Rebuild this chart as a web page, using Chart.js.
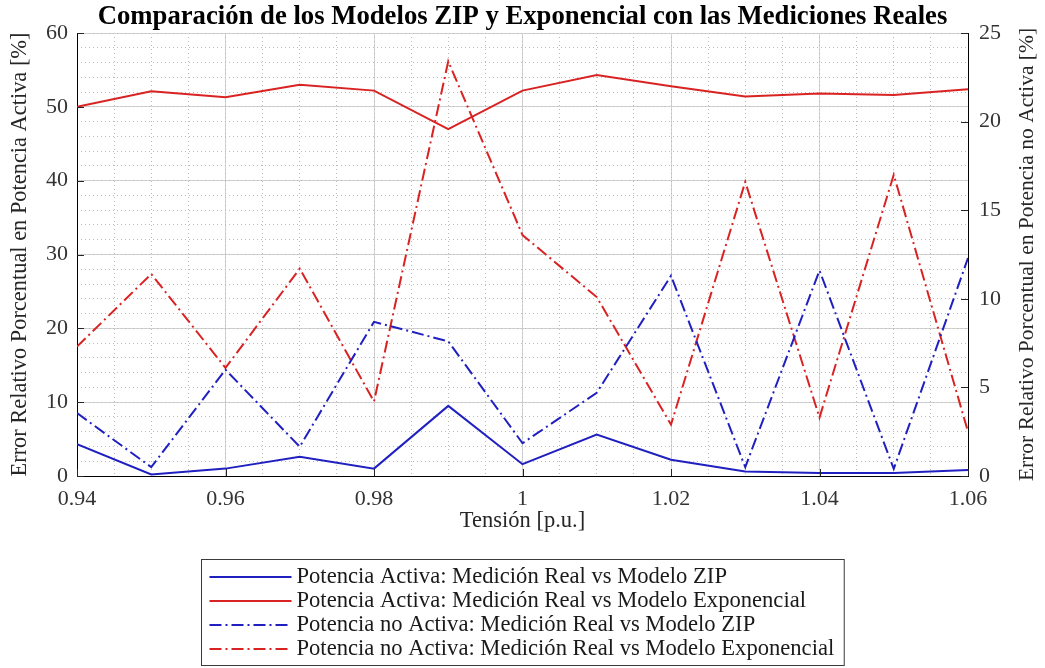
<!DOCTYPE html>
<html>
<head>
<meta charset="utf-8">
<script src="https://cdn.jsdelivr.net/npm/chart.js@4.4.1/dist/chart.umd.min.js"></script>
<style>
html,body{margin:0;padding:0;background:#fff;overflow:hidden}
#wrap{width:1045px;height:668px;position:relative}
</style>
</head>
<body>
<div id="wrap"><canvas id="c"></canvas></div>
<script>
// ---- data ----
const tension = [0.94, 0.95, 0.96, 0.97, 0.98, 0.99, 1.00, 1.01, 1.02, 1.03, 1.04, 1.05, 1.06];
const activaZIP   = [4.3, 0.2, 1.0, 2.6, 1.0, 9.5, 1.6, 5.6, 2.2, 0.6, 0.4, 0.4, 0.8];
const activaExp   = [50.0, 52.1, 51.3, 53.0, 52.2, 47.0, 52.2, 54.3, 52.8, 51.4, 51.8, 51.6, 52.4];
const noActivaZIP = [3.55, 0.5, 6.0, 1.65, 8.7, 7.6, 1.85, 4.7, 11.3, 0.5, 11.6, 0.4, 12.3];
const noActivaExp = [7.3, 11.4, 6.1, 11.7, 4.2, 23.4, 13.6, 10.1, 2.9, 16.6, 3.3, 17.0, 2.5];

const seriesLabels = [
  'Potencia Activa: Medición Real vs Modelo ZIP',
  'Potencia Activa: Medición Real vs Modelo Exponencial',
  'Potencia no Activa: Medición Real vs Modelo ZIP',
  'Potencia no Activa: Medición Real vs Modelo Exponencial'
];
const titleText = 'Comparación de los Modelos ZIP y Exponencial con las Mediciones Reales';
const xTitle = 'Tensión [p.u.]';
const yTitle = 'Error Relativo Porcentual en Potencia Activa [%]';
const y1Title = 'Error Relativo Porcentual en Potencia no Activa [%]';
const xRange = [0.94, 1.06], xStep = 0.02, xMinorStep = 0.005;
const yRange = [0, 60], yStep = 10, yMinorStep = 2;
const y1Range = [0, 25], y1Step = 5;

const FONT = "'Liberation Serif', 'Times New Roman', serif";
const BLUE = '#2020c0';
const RED = '#d92222';
const DASHDOT = [12, 4, 2, 4];

const toPts = arr => arr.map((v, i) => ({x: tension[i], y: v}));

// inward tick marks (MATLAB style)
const tickPlugin = {
  id: 'inTicks',
  afterDatasetsDraw(chart) {
    const {ctx, chartArea: a, scales} = chart;
    ctx.save();
    ctx.strokeStyle = '#262626';
    ctx.lineWidth = 1;
    const L = 7;
    ctx.beginPath();
    scales.x.ticks.forEach(t => {
      const p = Math.round(scales.x.getPixelForValue(t.value)) + 0.5;
      ctx.moveTo(p, a.bottom); ctx.lineTo(p, a.bottom - L);
    });
    scales.y.ticks.forEach(t => {
      const p = Math.round(scales.y.getPixelForValue(t.value)) + 0.5;
      ctx.moveTo(a.left, p); ctx.lineTo(a.left + L, p);
    });
    scales.y1.ticks.forEach(t => {
      const p = Math.round(scales.y1.getPixelForValue(t.value)) + 0.5;
      ctx.moveTo(a.right, p); ctx.lineTo(a.right - L, p);
    });
    ctx.stroke();
    ctx.restore();
  }
};

// right axis title, reading bottom-to-top as in the reference
const rightTitlePlugin = {
  id: 'rightTitle',
  afterDraw(chart) {
    const {ctx, chartArea: a} = chart;
    const s = chart.scales.y1;
    ctx.save();
    ctx.font = '21.5px ' + FONT;
    ctx.fillStyle = '#262626';
    ctx.textAlign = 'center';
    ctx.textBaseline = 'middle';
    ctx.translate(s.right - 18, (a.top + a.bottom) / 2);
    ctx.rotate(-Math.PI / 2);
    ctx.fillText(y1Title, 0, 0);
    ctx.restore();
  }
};

// boxed vertical legend under the axes
const legendPlugin = {
  id: 'boxLegend',
  afterDraw(chart) {
    const {ctx, chartArea: a} = chart;
    const ds = chart.data.datasets;
    ctx.save();
    ctx.font = '22.6px ' + FONT;
    let maxW = 0;
    ds.forEach(d => { maxW = Math.max(maxW, ctx.measureText(d.label).width); });
    const padL = 8, lineLen = 82, gap = 5, padR = 10, rowH = 24, top = 559;
    const w = padL + lineLen + gap + maxW + padR;
    const h = 18 + (ds.length - 1) * rowH + 16;
    const x0 = Math.round((a.left + a.right) / 2 - w / 2) + 0.5;
    ctx.fillStyle = '#fff';
    ctx.fillRect(x0, top + 0.5, w, h);
    ctx.strokeStyle = '#3a3a3a';
    ctx.lineWidth = 1;
    ctx.setLineDash([]);
    ctx.strokeRect(x0, top + 0.5, w, h);
    ds.forEach((d, i) => {
      const cy = top + 18 + i * rowH;
      ctx.beginPath();
      ctx.setLineDash(d.borderDash || []);
      ctx.strokeStyle = d.borderColor;
      ctx.lineWidth = d.borderWidth;
      ctx.moveTo(x0 + padL, cy);
      ctx.lineTo(x0 + padL + lineLen, cy);
      ctx.stroke();
      ctx.setLineDash([]);
      ctx.fillStyle = '#1a1a1a';
      ctx.textAlign = 'left';
      ctx.textBaseline = 'middle';
      ctx.fillText(d.label, x0 + padL + lineLen + gap, cy);
    });
    ctx.restore();
  }
};

const fmtX = v => String(+Number(v).toFixed(2));

new Chart(document.getElementById('c'), {
  type: 'line',
  data: {
    datasets: [
      {label: seriesLabels[0], data: toPts(activaZIP), yAxisID: 'y', borderColor: BLUE, borderWidth: 2},
      {label: seriesLabels[1], data: toPts(activaExp), yAxisID: 'y', borderColor: RED, borderWidth: 2},
      {label: seriesLabels[2], data: toPts(noActivaZIP), yAxisID: 'y1', borderColor: BLUE, borderWidth: 2, borderDash: DASHDOT},
      {label: seriesLabels[3], data: toPts(noActivaExp), yAxisID: 'y1', borderColor: RED, borderWidth: 2, borderDash: DASHDOT}
    ]
  },
  options: {
    responsive: true,
    maintainAspectRatio: false,
    animation: false,
    devicePixelRatio: 1,
    layout: {padding: {top: 0, left: 0, right: 0, bottom: 133}},
    elements: {point: {radius: 0}, line: {tension: 0, fill: false}},
    plugins: {
      legend: {display: false},
      tooltip: {enabled: false},
      title: {
        display: true, text: titleText, color: '#000',
        font: {family: FONT, size: 26.7, weight: 'bold', lineHeight: 1.2},
        padding: {top: 1, bottom: 0}
      }
    },
    scales: {
      x: {
        type: 'linear', position: 'bottom', min: xRange[0], max: xRange[1],
        ticks: {stepSize: xStep, callback: fmtX, color: '#333', padding: 10, maxRotation: 0, autoSkip: false,
                font: {family: FONT, size: 22, lineHeight: 1.2}},
        grid: {color: '#d2d2d2', lineWidth: 1, drawTicks: false},
        border: {display: true, color: '#000', width: 1},
        title: {display: true, text: xTitle, color: '#262626', padding: {top: 0, bottom: 0},
                font: {family: FONT, size: 22.5, lineHeight: 1.2}},
        afterFit: s => { s.height = 59; }
      },
      xMinor: {
        type: 'linear', position: 'top', min: xRange[0], max: xRange[1],
        ticks: {display: false, stepSize: xMinorStep},
        grid: {color: '#bcbcbc', lineWidth: 1, drawTicks: false, z: -1},
        border: {display: false, dash: [1, 3]},
        afterFit: s => { s.height = 0; }
      },
      y: {
        type: 'linear', position: 'left', min: yRange[0], max: yRange[1],
        ticks: {stepSize: yStep, color: '#333', padding: 9, font: {family: FONT, size: 22, lineHeight: 1.2}},
        grid: {color: '#d2d2d2', lineWidth: 1, drawTicks: false},
        border: {display: true, color: '#000', width: 1},
        title: {display: true, text: yTitle, color: '#262626', padding: {top: 7, bottom: 0},
                font: {family: FONT, size: 22.4, lineHeight: 1.2}},
        afterFit: s => { s.width = 77; }
      },
      yMinor: {
        type: 'linear', position: 'left', min: yRange[0], max: yRange[1],
        ticks: {display: false, stepSize: yMinorStep},
        grid: {color: '#bcbcbc', lineWidth: 1, drawTicks: false, z: -1},
        border: {display: false, dash: [1, 3]},
        afterFit: s => { s.width = 0; }
      },
      y1: {
        type: 'linear', position: 'right', min: y1Range[0], max: y1Range[1],
        ticks: {stepSize: y1Step, color: '#333', padding: 11, font: {family: FONT, size: 22, lineHeight: 1.2}},
        grid: {drawOnChartArea: false, drawTicks: false},
        border: {display: true, color: '#000', width: 1},
        title: {display: false},
        afterFit: s => { s.width = 77; }
      }
    }
  },
  plugins: [tickPlugin, rightTitlePlugin, legendPlugin]
});
</script>
</body>
</html>
